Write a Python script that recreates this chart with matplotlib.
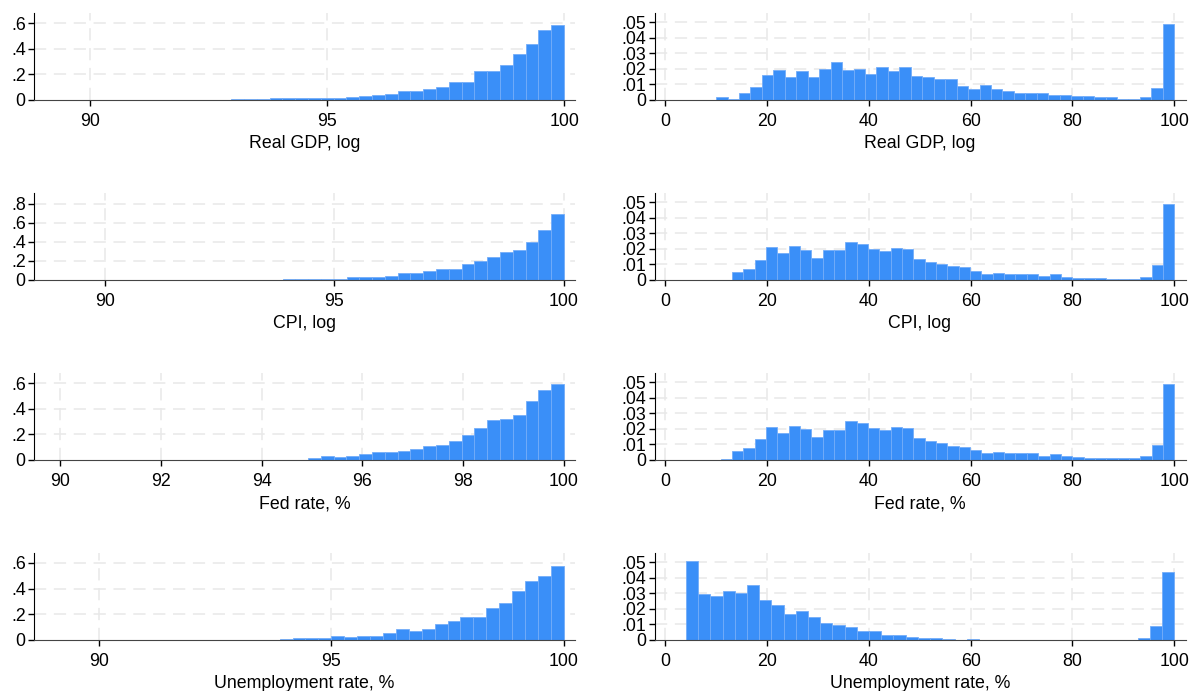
import numpy as np
import matplotlib
matplotlib.use("Agg")
import matplotlib.pyplot as plt
from matplotlib.ticker import FuncFormatter

plt.rcParams['font.family'] = ['Liberation Sans', 'DejaVu Sans']

# variable names (x-axis titles), one per row
labels = ["Real GDP, log", "CPI, log", "Fed rate, %", "Unemployment rate, %"]

# left column: zoom on the top percentiles (40 bins each, ending at 100)
left_start = [89.2, 88.86, 89.84, 88.88]
left_xlim = [(88.82, 100.23), (88.46, 100.24), (89.48, 100.22), (88.60, 100.24)]
left_xticks = [[90, 95, 100], [90, 95, 100], [90, 92, 94, 96, 98, 100], [90, 95, 100]]
left_yticks = [[0, .2, .4, .6], [0, .2, .4, .6, .8], [0, .2, .4, .6], [0, .2, .4, .6]]
left_ytop = [0.683, 0.915, 0.683, 0.68]

gdp_left = [0.003, 0.003, 0, 0, 0.003, 0.003, 0, 0, 0.003, 0.003,
            0.003, 0.003, 0.003, 0.003, 0.004, 0.006, 0.008, 0.013, 0.013, 0.013,
            0.018, 0.018, 0.018, 0.023, 0.028, 0.041, 0.049, 0.072, 0.072, 0.088,
            0.103, 0.137, 0.137, 0.23, 0.23, 0.273, 0.36, 0.438, 0.547, 0.59]
cpi_left = [0.004, 0, 0.004, 0, 0.002, 0.002, 0.002, 0.002, 0.002, 0.002,
            0.002, 0.002, 0.002, 0.003, 0.003, 0.003, 0.003, 0.003, 0.012, 0.012,
            0.008, 0.008, 0.012, 0.031, 0.035, 0.035, 0.042, 0.069, 0.069, 0.094,
            0.111, 0.118, 0.163, 0.197, 0.239, 0.291, 0.315, 0.402, 0.519, 0.696]
fed_left = [0.003, 0, 0.003, 0, 0.003, 0.003, 0.003, 0.003, 0.003, 0.003,
            0.003, 0.003, 0.003, 0.003, 0.003, 0.003, 0.003, 0.003, 0.003, 0.003,
            0.013, 0.028, 0.021, 0.028, 0.044, 0.06, 0.06, 0.067, 0.085, 0.106,
            0.114, 0.147, 0.199, 0.248, 0.316, 0.323, 0.355, 0.46, 0.549, 0.595]
unemp_left = [0.003, 0.003, 0.003, 0, 0.003, 0, 0, 0.003, 0.003, 0,
              0.003, 0.003, 0, 0, 0, 0, 0, 0, 0.008, 0.013,
              0.018, 0.013, 0.033, 0.026, 0.033, 0.033, 0.057, 0.082, 0.072, 0.087,
              0.126, 0.149, 0.178, 0.178, 0.247, 0.288, 0.381, 0.458, 0.497, 0.574]

# right column: full 0-100 range
right_start = [10.0, 10.87, 10.87, 4.07]
right_yticks = [0, .01, .02, .03, .04, .05]

gdp_right = [0.0021, 0.0009, 0.0047, 0.0082, 0.0163, 0.0191, 0.015, 0.0185, 0.015, 0.0197,
             0.0242, 0.0195, 0.0202, 0.0165, 0.0215, 0.0189, 0.021, 0.0157, 0.0146, 0.0137,
             0.0133, 0.0088, 0.0073, 0.0094, 0.0069, 0.0056, 0.0043, 0.0043, 0.0043, 0.003,
             0.003, 0.0024, 0.0024, 0.0017, 0.0017, 0.0004, 0.0004, 0.0017, 0.0075, 0.0487]
cpi_right = [0.0002, 0.0052, 0.0073, 0.0129, 0.0212, 0.0174, 0.0219, 0.0195, 0.0144, 0.0193,
             0.0193, 0.0247, 0.0232, 0.0202, 0.0187, 0.0206, 0.0202, 0.0135, 0.0116, 0.0103,
             0.009, 0.0084, 0.006, 0.0039, 0.0045, 0.0039, 0.0039, 0.0039, 0.0026, 0.0039,
             0.0019, 0.0015, 0.0013, 0.0013, 0.0006, 0.0006, 0.0009, 0.0019, 0.0094, 0.0487]
fed_right = [0.0004, 0.0058, 0.0075, 0.0134, 0.0211, 0.0172, 0.0218, 0.0198, 0.0147, 0.0192,
             0.0192, 0.025, 0.0239, 0.0205, 0.0192, 0.0211, 0.0205, 0.014, 0.0121, 0.0108,
             0.0088, 0.0082, 0.0062, 0.0043, 0.0049, 0.0043, 0.0043, 0.0043, 0.0024, 0.0037,
             0.0024, 0.0017, 0.0013, 0.0011, 0.0011, 0.0011, 0.0011, 0.0024, 0.0097, 0.0491]
unemp_right = [0.0511, 0.0294, 0.0285, 0.0318, 0.0305, 0.0351, 0.0259, 0.0226, 0.0169, 0.0189,
               0.0147, 0.0107, 0.0094, 0.0081, 0.0061, 0.0057, 0.0035, 0.0035, 0.0022, 0.0015,
               0.0015, 0.0009, 0.0002, 0.0009, 0.0002, 0.0002, 0.0002, 0.0002, 0.0002, 0.0002,
               0.0002, 0.0002, 0.0002, 0.0002, 0.0002, 0.0002, 0.0002, 0.0015, 0.0088, 0.0439]

left_data = [gdp_left, cpi_left, fed_left, unemp_left]
right_data = [gdp_right, cpi_right, fed_right, unemp_right]

BAR = '#3a8ff8'
EDGE = '#74adf9'
GRID = '#e8e8e8'


def fmt(v, pos):
    if abs(v) < 1e-12:
        return '0'
    s = ('%.2f' % v).rstrip('0')
    return s[1:] if s.startswith('0') else s


def histPanel(ax, heights, start, xlim, xticks, yticks, ytop, label):
    edges = np.linspace(start, 100, len(heights) + 1)
    widths = np.diff(edges)
    ax.bar(edges[:-1], heights, width=widths, align='edge', color=BAR,
           edgecolor=EDGE, linewidth=0.6, zorder=2)
    ax.set_xlim(*xlim)
    ax.set_ylim(0, ytop)
    ax.set_xticks(xticks)
    ax.set_yticks(yticks)
    ax.yaxis.set_major_formatter(FuncFormatter(fmt))
    for y in yticks[1:]:
        ax.axhline(y, color=GRID, lw=1.1, ls=(0, (8, 5)), zorder=0)
    for x in xticks:
        ax.axvline(x, color=GRID, lw=1.1, ls=(0, (8, 5)), zorder=0)
    for s in ['top', 'right']:
        ax.spines[s].set_visible(False)
    ax.spines['left'].set_color('black')
    ax.spines['bottom'].set_color('#444444')
    ax.tick_params(axis='both', length=4, width=1, labelsize=12.8)
    ax.tick_params(axis='x', pad=5)
    ax.tick_params(axis='y', pad=2)
    ax.set_xlabel(label, fontsize=12.8, labelpad=4)


fig = plt.figure(figsize=(11.9, 6.91), dpi=100)
W, H = 1190.0, 691.0
for i in range(4):
    top = 12.7 + 180 * i
    bottom = 100 + 180 * i
    axL = fig.add_axes([34 / W, 1 - bottom / H, (575 - 34) / W, (bottom - top) / H])
    histPanel(axL, left_data[i], left_start[i], left_xlim[i], left_xticks[i],
              left_yticks[i], left_ytop[i], labels[i])
    axR = fig.add_axes([654.5 / W, 1 - bottom / H, (1185.5 - 654.5) / W, (bottom - top) / H])
    histPanel(axR, right_data[i], right_start[i], (-2.1, 102.2), [0, 20, 40, 60, 80, 100],
              right_yticks, 0.0562, labels[i])

fig.savefig('out.png', dpi=100)
